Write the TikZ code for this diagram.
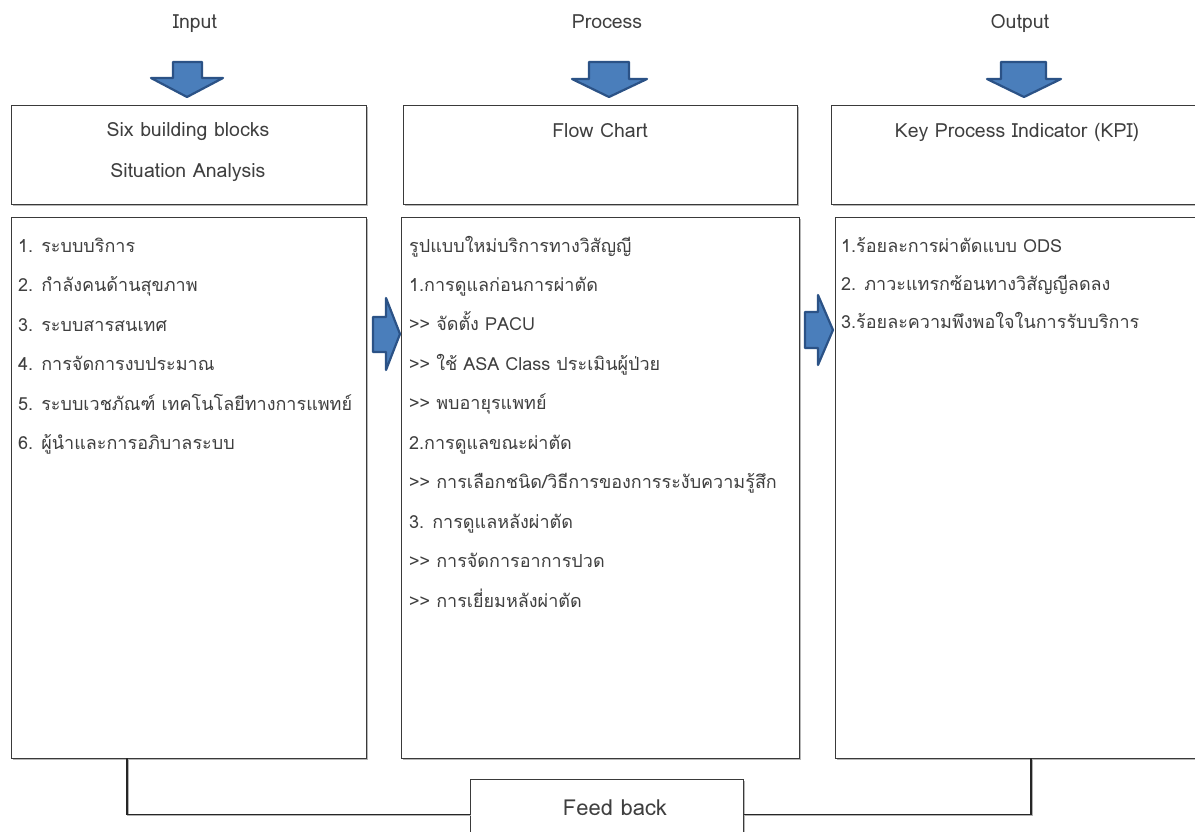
\documentclass[tikz,border=0pt]{standalone}
\usepackage{fontspec}
\setmainfont[Script=Thai]{Loma}
\usetikzlibrary{shadows}
\definecolor{txt}{HTML}{3F3F3F}
\definecolor{boxc}{HTML}{3A3A3A}
\definecolor{arrf}{HTML}{4A7EBB}
\definecolor{arrd}{HTML}{2B5286}
\newcommand{\dblgt}{>{}>}
\tikzset{
  box/.style={draw=boxc, line width=1pt, fill=white, anchor=north west, inner sep=0pt,
    drop shadow={shadow xshift=1.3pt, shadow yshift=-1.3pt, fill=gray!70, opacity=0.8}},
  lst/.style={anchor=base west, inner sep=0pt, text=txt, font=\fontsize{18}{20}\selectfont},
  hdr/.style={anchor=base, inner sep=0pt, text=txt, font=\fontsize{19.5}{22}\selectfont},
  blockarrow/.style={fill=arrf, draw=arrd, line width=2.2pt, line join=round},
  conn/.style={draw=black!85, line width=1.4pt,
    preaction={draw=gray!60, line width=1.4pt, transform canvas={shift={(1pt,-1pt)}}}}
}
\begin{document}
\begin{tikzpicture}[x=1pt,y=-1pt]
\useasboundingbox (0,0) rectangle (1195,832);
\clip (0,0) rectangle (1195,832);
\fill[white] (0,0) rectangle (1195,832);

% column headings
\node[hdr] (hin) at (195,29) {Input};
\node[hdr] (hpr) at (607,29) {Process};
\node[hdr] (hout) at (1020,29) {Output};

% down block arrows
\draw[blockarrow] (173,62) -- (202,62) -- (202,78) -- (223,78) -- (187,97) -- (151,78) -- (173,78) -- cycle;
\draw[blockarrow] (589,62) -- (629,62) -- (629,79) -- (647,79) -- (609,97) -- (572,79) -- (589,79) -- cycle;
\draw[blockarrow] (1001,62) -- (1046,62) -- (1046,79) -- (1061,79) -- (1024,97) -- (987,79) -- (1001,79) -- cycle;

% top boxes
\node[box, minimum width=355pt, minimum height=99pt] (intop) at (11,105) {};
\node[box, minimum width=394pt, minimum height=99pt] (prtop) at (403,105) {};
\node[box, minimum width=380pt, minimum height=99pt] (outtop) at (831,105) {};

\node[hdr] (t1) at (188,137) {Six building blocks};
\node[hdr] (t2) at (188,178) {Situation Analysis};
\node[hdr] (t3) at (600,138) {Flow Chart};
\node[hdr] (t4) at (1017,138) {Key Process Indicator (KPI)};

% bottom boxes
\node[box, minimum width=355pt, minimum height=541pt] (inbox) at (11,217) {};
\node[box, minimum width=398pt, minimum height=541pt] (prbox) at (401,217) {};
\node[box, minimum width=380pt, minimum height=541pt] (outbox) at (835,217) {};

% side block arrows
\draw[blockarrow] (373,317) -- (386,317) -- (386,298) -- (400,334) -- (386,370) -- (386,352) -- (373,352) -- cycle;
\draw[blockarrow] (805,312) -- (818,312) -- (818,295) -- (833,330) -- (818,365) -- (818,348) -- (805,348) -- cycle;

% input list
\node[lst] (i1) at (18,252) {1. ระบบบริการ};
\node[lst] (i2) at (18,291.5) {2. กำลังคนด้านสุขภาพ};
\node[lst] (i3) at (18,331) {3. ระบบสารสนเทศ};
\node[lst] (i4) at (18,370.5) {4. การจัดการงบประมาณ};
\node[lst] (i5) at (18,410) {5. ระบบเวชภัณฑ์ เทคโนโลยีทางการแพทย์};
\node[lst] (i6) at (18,449.5) {6. ผู้นำและการอภิบาลระบบ};

% process list
\node[lst] (p1) at (409,252) {รูปแบบใหม่บริการทางวิสัญญี};
\node[lst] (p2) at (409,291) {1.การดูแลก่อนการผ่าตัด};
\node[lst] (p3) at (409,330.5) {\dblgt{} จัดตั้ง PACU};
\node[lst] (p4) at (409,370) {\dblgt{} ใช้ ASA Class ประเมินผู้ป่วย};
\node[lst] (p5) at (409,409.5) {\dblgt{} พบอายุรแพทย์};
\node[lst] (p6) at (409,449) {2.การดูแลขณะผ่าตัด};
\node[lst] (p7) at (409,488.5) {\dblgt{} การเลือกชนิด/วิธีการของการระงับความรู้สึก};
\node[lst] (p8) at (409,528) {3. การดูแลหลังผ่าตัด};
\node[lst] (p9) at (409,567.5) {\dblgt{} การจัดการอาการปวด};
\node[lst] (p10) at (409,607) {\dblgt{} การเยี่ยมหลังผ่าตัด};

% output list
\node[lst] (o1) at (841,252) {1.ร้อยละการผ่าตัดแบบ ODS};
\node[lst] (o2) at (841,290) {2. ภาวะแทรกซ้อนทางวิสัญญีลดลง};
\node[lst] (o3) at (841,328) {3.ร้อยละความพึงพอใจในการรับบริการ};

% feedback
\node[box, minimum width=273pt, minimum height=70pt] (fb) at (470,779) {};
\node[hdr, font=\fontsize{22}{24}\selectfont] (fbt) at (615,815) {Feed back};
\coordinate (fl) at (127,758);
\coordinate (fr) at (1031,758);
\draw[conn] (fl) |- (fb.west);
\draw[conn] (fr) |- (fb.east);
\end{tikzpicture}
\end{document}
